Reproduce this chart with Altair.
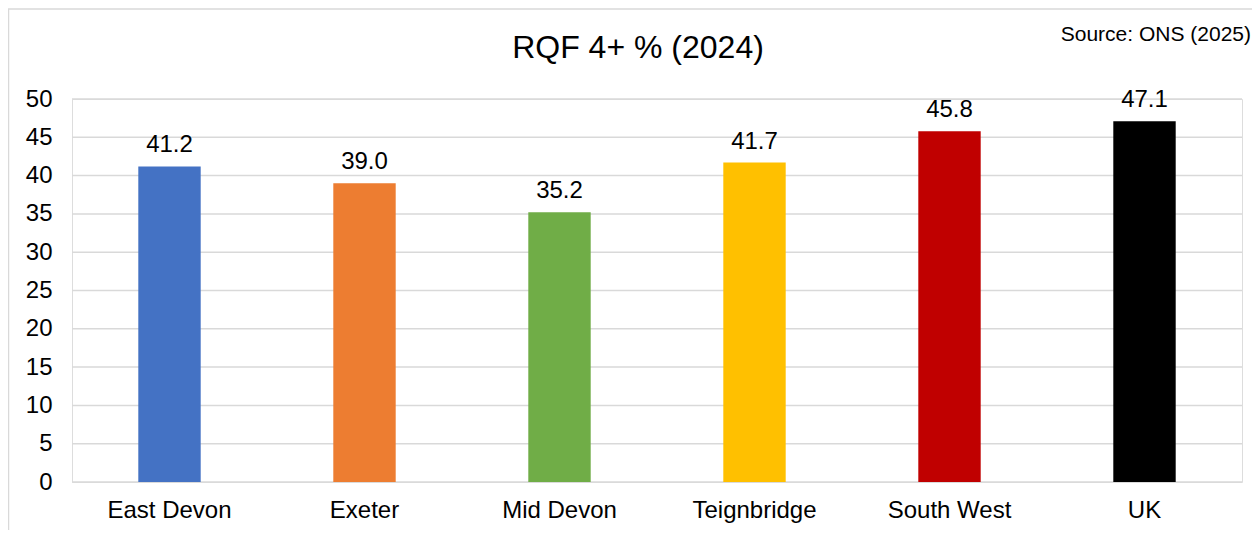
import altair as alt
import pandas as pd

categories = ["East Devon", "Exeter", "Mid Devon", "Teignbridge", "South West", "UK"]
values = [41.2, 39.0, 35.2, 41.7, 45.8, 47.1]
colors = ["#4472C4", "#ED7D31", "#70AD47", "#FFC000", "#C00000", "#000000"]
y_ticks = [0, 5, 10, 15, 20, 25, 30, 35, 40, 45, 50]

df = pd.DataFrame({"cat": categories, "val": values, "lab": [f"{v:.1f}" for v in values]})
grid_df = pd.DataFrame({"g": y_ticks})

FONT = "Liberation Sans"
W, H = 1170, 383

x = alt.X("cat:N", sort=categories, title=None,
          scale=alt.Scale(paddingInner=0.68, paddingOuter=0.34),
          axis=alt.Axis(labelAngle=0, labelFontSize=24, labelFont=FONT, labelColor="#000000",
                        labelPadding=16, ticks=False, domain=False))
y_scale = alt.Scale(domain=[0, 50], nice=False)
y_axis = alt.Axis(values=y_ticks, labelOverlap=False,
                  labelFontSize=24, labelFont=FONT, labelColor="#000000",
                  labelPadding=20, ticks=False, domain=False, grid=False)

grid = alt.Chart(grid_df).mark_rule(color="#D9D9D9", strokeWidth=1.5).encode(
    y=alt.Y("g:Q", scale=y_scale, axis=y_axis, title=None),
)

bars = alt.Chart(df).mark_bar().encode(
    x=x,
    y=alt.Y("val:Q", scale=y_scale, axis=y_axis, title=None),
    color=alt.Color("cat:N", sort=categories,
                    scale=alt.Scale(domain=categories, range=colors), legend=None),
)

labels = alt.Chart(df).mark_text(baseline="alphabetic", dy=-14, fontSize=24, font=FONT, color="#000000").encode(
    x=alt.X("cat:N", sort=categories),
    y=alt.Y("val:Q", scale=y_scale, axis=y_axis, title=None),
    text="lab:N",
)

title = alt.Chart(pd.DataFrame({"t": ["RQF 4+ % (2024)"]})).mark_text(
    fontSize=32, font=FONT, color="#000000", align="center", baseline="middle"
).encode(x=alt.value(566), y=alt.value(-51), text="t:N")

source = alt.Chart(pd.DataFrame({"t": ["Source: ONS (2025)"]})).mark_text(
    fontSize=21, font=FONT, color="#000000", align="right", baseline="middle"
).encode(x=alt.value(1179), y=alt.value(-64), text="t:N")

border_left = alt.Chart(pd.DataFrame({"a": [0]})).mark_rule(color="#D9D9D9", strokeWidth=1.5).encode(
    x=alt.value(-63.5), y=alt.value(-90), y2=alt.value(440))
border_top = alt.Chart(pd.DataFrame({"a": [0]})).mark_rule(color="#D9D9D9", strokeWidth=1.5).encode(
    x=alt.value(-64), x2=alt.value(1190), y=alt.value(-90))
blue = alt.Chart(pd.DataFrame({"a": [0]})).mark_rect(color="#1A6FB8").encode(
    x=alt.value(1111), x2=alt.value(1190), y=alt.value(-100), y2=alt.value(-94))

chart = alt.layer(grid, bars, labels, title, source, border_left, border_top, blue).properties(
    width=W, height=H,
    autosize=alt.AutoSizeParams(type="none"),
    padding={"left": 64, "top": 91, "right": 10, "bottom": 48},
).configure_view(stroke=None).configure(background="#FFFFFF")

chart.save("out.html", embed_options={"renderer": "svg", "actions": False})
